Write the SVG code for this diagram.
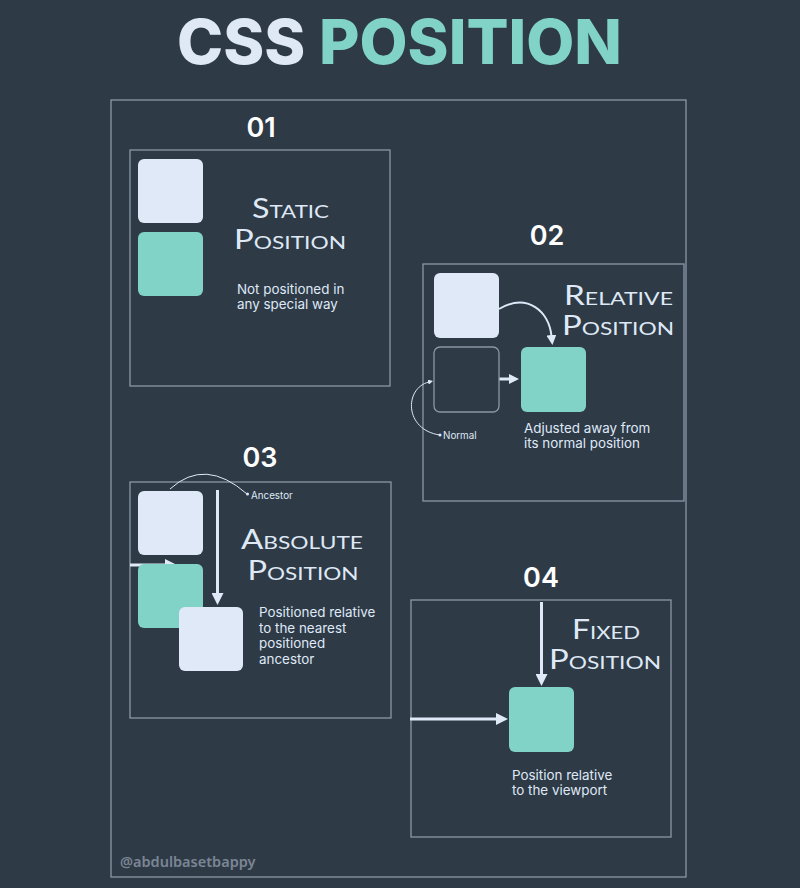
<svg xmlns="http://www.w3.org/2000/svg" width="800" height="888" viewBox="0 0 800 888">
<defs>
<style>
.frame{fill:none;stroke:#8b97a5;stroke-width:1.3}
.num{font-family:Inter,"Noto Sans",sans-serif;font-weight:600;font-size:27px;fill:#ffffff;text-anchor:middle}
.head{font-family:Lato,"Open Sans",sans-serif;font-weight:400;font-size:26px;fill:#dfe9f6;font-variant:small-caps}
.body{font-family:Inter,"Noto Sans",sans-serif;font-size:13.4px;fill:#dfe9f6}
.tiny{font-family:Inter,"Noto Sans",sans-serif;font-size:9.8px;fill:#dfe9f6}
.light{fill:#dfe9f7}
.teal{fill:#80d3c6}
.ghost{fill:none;stroke:#8b97a5;stroke-width:1.3}
.arrow{fill:none;stroke:#dfe9f7;stroke-width:3}
.arrowM{fill:none;stroke:#dfe9f7;stroke-width:2}
.thin{fill:none;stroke:#dfe9f7;stroke-width:1}
</style>
<marker id="hd" viewBox="0 0 12 12" markerWidth="12" markerHeight="12" refX="1" refY="6" orient="auto" markerUnits="userSpaceOnUse"><path d="M0,0 L12,6 L0,12 z" fill="#dfe9f7"/></marker>
<marker id="hs" viewBox="0 0 10 10" markerWidth="10" markerHeight="10" refX="1" refY="5" orient="auto" markerUnits="userSpaceOnUse"><path d="M0,0 L10,5 L0,10 z" fill="#dfe9f7"/></marker>
<marker id="ht" viewBox="0 0 6 6" markerWidth="5" markerHeight="5" refX="1" refY="3" orient="auto" markerUnits="userSpaceOnUse"><path d="M0,0 L6,3 L0,6 z" fill="#dfe9f7"/></marker>
</defs>
<rect width="800" height="888" fill="#2f3a47"/>
<g id="title">
<text x="177" y="64" font-family="Inter,'Noto Sans',sans-serif" font-weight="800" font-size="62" textLength="445" lengthAdjust="spacingAndGlyphs"><tspan fill="#dfe9f6">CSS</tspan><tspan fill="#80d3c6"> POSITION</tspan></text>
</g>
<rect id="outer" class="frame" x="111" y="100" width="575" height="777"/>

<g id="panel-01">
<text class="num" x="261" y="137">01</text>
<rect class="frame" x="130" y="150" width="260" height="236"/>
<text class="head" x="252" y="218" textLength="77" lengthAdjust="spacingAndGlyphs">Static</text>
<text class="head" x="234" y="249" textLength="112" lengthAdjust="spacingAndGlyphs">Position</text>
<text class="body" x="237" y="294">Not positioned in</text>
<text class="body" x="237" y="309">any special way</text>
</g>
<g id="panel-02">
<text class="num" x="547" y="245">02</text>
<rect class="frame" x="423" y="264" width="261" height="237"/>
<text class="head" x="564" y="305" textLength="109" lengthAdjust="spacingAndGlyphs">Relative</text>
<text class="head" x="562" y="335" textLength="112" lengthAdjust="spacingAndGlyphs">Position</text>
<text class="body" x="524" y="433">Adjusted away from</text>
<text class="body" x="524" y="448">its normal position</text>
<text class="tiny" x="443" y="439">Normal</text>
</g>
<g id="panel-03">
<text class="num" x="260" y="467">03</text>
<rect class="frame" x="130" y="482" width="261" height="236"/>
<text class="head" x="241" y="549" textLength="122" lengthAdjust="spacingAndGlyphs">Absolute</text>
<text class="head" x="247.5" y="580" textLength="111" lengthAdjust="spacingAndGlyphs">Position</text>
<text class="body" x="259" y="617">Positioned relative</text>
<text class="body" x="259" y="632.5">to the nearest</text>
<text class="body" x="259" y="648">positioned</text>
<text class="body" x="259" y="663.5">ancestor</text>
<text class="tiny" x="251" y="499">Ancestor</text>
</g>
<g id="panel-04">
<text class="num" x="541" y="587">04</text>
<rect class="frame" x="411" y="600" width="260" height="237"/>
<text class="head" x="572" y="639" textLength="68" lengthAdjust="spacingAndGlyphs">Fixed</text>
<text class="head" x="549" y="669" textLength="112" lengthAdjust="spacingAndGlyphs">Position</text>
<text class="body" x="512" y="780">Position relative</text>
<text class="body" x="512" y="795">to the viewport</text>
</g>

<g id="connectors">
<path class="arrowM" d="M499,309 C528,292 549,312 551.5,336" marker-end="url(#hs)"/>
<path class="arrow" d="M499,379 L510,379" marker-end="url(#hs)"/>
<path class="thin" d="M440,435 C404,430 404,388 429,382" marker-end="url(#ht)"/>
<circle cx="440" cy="435" r="1.5" fill="#dfe9f7"/>
<path class="thin" d="M170,489 Q205,457 247,494"/>
<circle cx="247.5" cy="494" r="1.5" fill="#dfe9f7"/>
<path class="arrow" d="M130,565 L166,565" marker-end="url(#hd)"/>
<path class="arrow" d="M217.5,490 L217.5,594" marker-end="url(#hd)"/>
<path class="arrow" d="M541.5,602 L541.5,675" marker-end="url(#hd)"/>
<path class="arrow" d="M410,719 L497,719" marker-end="url(#hd)"/>
</g>

<g id="static-box-1"><rect class="light" x="138" y="159" width="65" height="64" rx="6"/></g>
<g id="static-box-2"><rect class="teal" x="138" y="232" width="65" height="64" rx="6"/></g>
<g id="relative-box"><rect class="light" x="434" y="273" width="65" height="65" rx="6"/></g>
<g id="relative-normal"><rect class="ghost" x="434" y="347" width="65" height="65" rx="6"/></g>
<g id="relative-moved"><rect class="teal" x="521" y="347" width="65" height="65" rx="6"/></g>
<g id="absolute-ancestor"><rect class="light" x="138" y="491" width="65" height="64" rx="6"/></g>
<g id="absolute-box"><rect class="teal" x="138" y="564" width="65" height="64" rx="6"/></g>
<g id="absolute-moved"><rect class="light" x="179" y="607" width="64" height="64" rx="6"/></g>
<g id="fixed-box"><rect class="teal" x="509" y="687" width="65" height="65" rx="6"/></g>

<g id="watermark">
<text x="120" y="867" font-family="'Noto Sans',Inter,sans-serif" font-weight="600" font-size="14.5" fill="#7b8694">@abdulbasetbappy</text>
</g>
</svg>
